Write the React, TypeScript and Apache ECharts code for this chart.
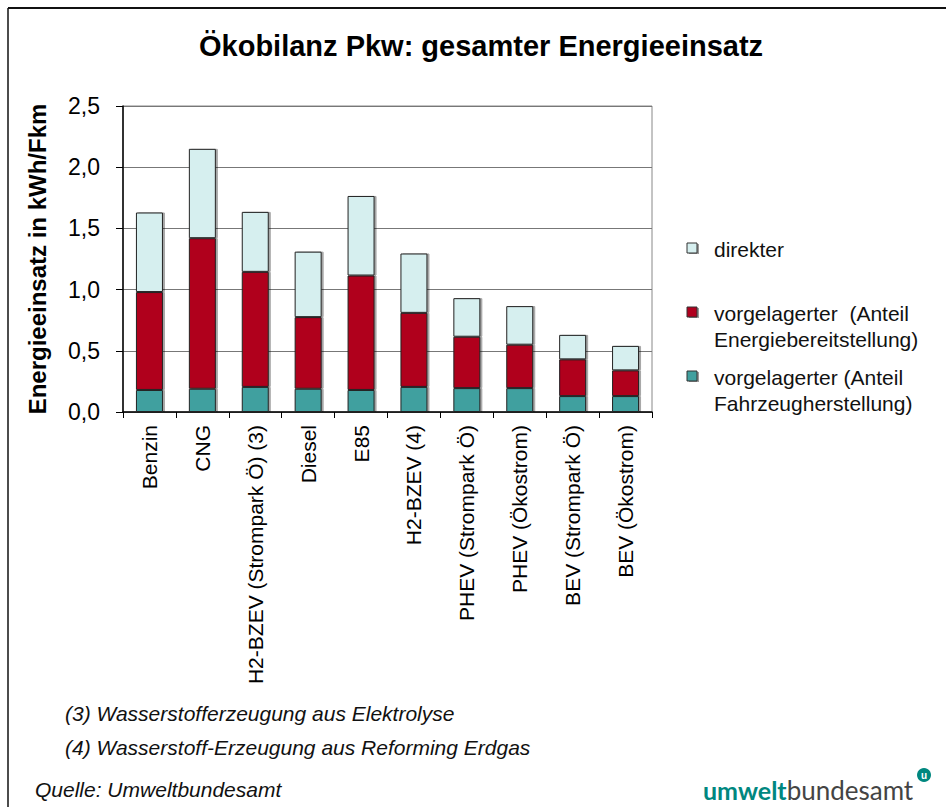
import React, { useEffect, useRef } from "react";
import * as echarts from "echarts";

const categories = [
  "Benzin",
  "CNG",
  "H2-BZEV (Strompark Ö) (3)",
  "Diesel",
  "E85",
  "H2-BZEV (4)",
  "PHEV (Strompark Ö)",
  "PHEV (Ökostrom)",
  "BEV (Strompark Ö)",
  "BEV (Ökostrom)",
];
const fahrzeugherstellung = [0.18, 0.19, 0.205, 0.19, 0.18, 0.205, 0.195, 0.195, 0.13, 0.13];
const energiebereitstellung = [0.8, 1.23, 0.94, 0.585, 0.935, 0.605, 0.42, 0.355, 0.3, 0.21];
const direkter = [0.65, 0.73, 0.49, 0.535, 0.65, 0.485, 0.315, 0.315, 0.2, 0.2];
const yTicks = { min: 0, max: 2.5, interval: 0.5 };

const seriesNames = [
  "vorgelagerter (Anteil Fahrzeugherstellung)",
  "vorgelagerter  (Anteil Energiebereitstellung)",
  "direkter",
];
const colors = ["#41a09f", "#b0001e", "#d6efef"];

const FONT = "'Liberation Sans', Arial, sans-serif";

export default function App() {
  const ref = useRef<HTMLDivElement>(null);
  useEffect(() => {
    if (!ref.current) return;
    const chart = echarts.init(ref.current, undefined, { renderer: "svg" });
    const barStyle = (c: string) => ({
      color: c,
      borderColor: "#222",
      borderWidth: 1,
      shadowColor: "rgba(0,0,0,0.35)",
      shadowOffsetX: 2,
      shadowOffsetY: 0,
      shadowBlur: 0,
    });
    const datasets = [fahrzeugherstellung, energiebereitstellung, direkter];
    const legendY = [249, 313, 377];
    const legendText = [
      "direkter",
      "vorgelagerter  (Anteil\nEnergiebereitstellung)",
      "vorgelagerter (Anteil\nFahrzeugherstellung)",
    ];
    const legendColors = [colors[2], colors[1], colors[0]];
    const legendGraphics: any[] = [];
    legendText.forEach((t, i) => {
      legendGraphics.push({
        type: "rect",
        shape: { x: 689, y: legendY[i] - 5, width: 10, height: 10 },
        style: { fill: "#999" },
      });
      legendGraphics.push({
        type: "rect",
        shape: { x: 687, y: legendY[i] - 6, width: 10, height: 10 },
        style: { fill: legendColors[i], stroke: "#333", lineWidth: 1 },
      });
      legendGraphics.push({
        type: "text",
        x: 714,
        y: legendY[i] - 13,
        style: {
          text: t,
          font: `21px ${FONT}`,
          fill: "#111",
          lineHeight: 26,
          verticalAlign: "top",
        },
      });
    });
    chart.setOption({
      animation: false,
      backgroundColor: "#fff",
      title: {
        text: "Ökobilanz Pkw: gesamter Energieeinsatz",
        left: 194,
        top: 26,
        textStyle: { fontFamily: FONT, fontSize: 29, fontWeight: "bold", color: "#000" },
      },
      grid: {
        left: 123,
        top: 106,
        width: 529,
        height: 306,
        show: true,
        borderColor: "#888",
        borderWidth: 1,
        containLabel: false,
      },
      xAxis: {
        type: "category",
        data: categories,
        axisLine: { lineStyle: { color: "#000", width: 1.5 } },
        axisTick: { show: true, length: 6, lineStyle: { color: "#000" } },
        axisLabel: {
          rotate: 90,
          interval: 0,
          margin: 13,
          fontFamily: FONT,
          fontSize: 21,
          color: "#000",
        },
      },
      yAxis: {
        type: "value",
        min: yTicks.min,
        max: yTicks.max,
        interval: yTicks.interval,
        name: "Energieeinsatz in kWh/Fkm",
        nameLocation: "middle",
        nameGap: 74,
        nameTextStyle: { fontFamily: FONT, fontSize: 24, fontWeight: "bold", color: "#000" },
        axisLine: { show: true, lineStyle: { color: "#000", width: 1.5 } },
        axisTick: { show: true, length: 7, inside: false, lineStyle: { color: "#000" } },
        splitLine: { lineStyle: { color: "#777", width: 1 } },
        axisLabel: {
          margin: 23,
          fontFamily: FONT,
          fontSize: 23,
          color: "#000",
          formatter: (v: number) => v.toFixed(1).replace(".", ","),
        },
      },
      series: datasets.map((d, i) => ({
        name: seriesNames[i],
        type: "bar",
        stack: "total",
        barWidth: 27,
        data: d,
        itemStyle: barStyle(colors[i]),
      })),
      graphic: [
        { type: "line", shape: { x1: 8, y1: 8, x2: 946, y2: 8 }, style: { stroke: "#111", lineWidth: 2 } },
        { type: "line", shape: { x1: 8, y1: 8, x2: 8, y2: 807 }, style: { stroke: "#111", lineWidth: 1.5 } },
        ...legendGraphics,
        {
          type: "text",
          x: 65,
          y: 713,
          style: { text: "(3) Wasserstofferzeugung aus Elektrolyse", font: `italic 21px ${FONT}`, fill: "#111", verticalAlign: "middle" },
        },
        {
          type: "text",
          x: 65,
          y: 747,
          style: { text: "(4) Wasserstoff-Erzeugung aus Reforming Erdgas", font: `italic 21px ${FONT}`, fill: "#111", verticalAlign: "middle" },
        },
        {
          type: "text",
          x: 35,
          y: 789,
          style: { text: "Quelle: Umweltbundesamt", font: `italic 21px ${FONT}`, fill: "#111", verticalAlign: "middle" },
        },
        {
          type: "text",
          x: 703,
          y: 790,
          style: {
            text: "{a|umwelt}{b|bundesamt}",
            verticalAlign: "middle",
            rich: {
              a: { fontFamily: "Lato, sans-serif", fontSize: 25, fontWeight: "bold", fill: "#00877f" },
              b: { fontFamily: "Lato, sans-serif", fontSize: 26, fontWeight: "normal", fill: "#444" },
            },
          },
        },
        { type: "circle", shape: { cx: 924, cy: 775, r: 7 }, style: { fill: "#00877f" } },
        {
          type: "text",
          x: 924,
          y: 775,
          style: { text: "u", font: `bold 10px ${FONT}`, fill: "#fff", align: "center", verticalAlign: "middle" },
        },
      ],
    });
    return () => chart.dispose();
  }, []);
  return (
    <div
      ref={ref}
      style={{ position: "fixed", left: 0, top: 0, width: 946, height: 807 }}
    />
  );
}
